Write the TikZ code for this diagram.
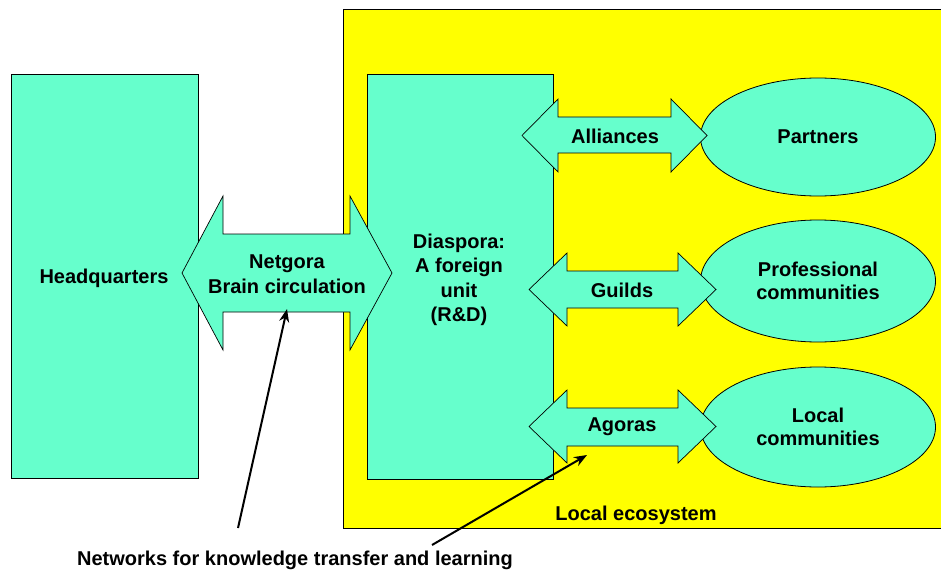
\documentclass[tikz,border=0pt]{standalone}
\usepackage{fontspec}
\setmainfont{Liberation Sans}
\usetikzlibrary{arrows.meta,shapes.geometric}
\definecolor{aqua}{HTML}{66FFCC}
\definecolor{yel}{HTML}{FFFF00}
\tikzset{
  box/.style={draw=black, line width=0.8pt, fill=aqua},
  lbl/.style={font=\fontsize{20}{24.5}\selectfont\bfseries, align=center, inner sep=0pt},
  dbl/.style={draw=black, line width=0.7pt, fill=aqua},
  pointer/.style={line width=2pt, -{Stealth[length=13pt,width=10pt]}}
}
\begin{document}
\begin{tikzpicture}[x=1pt,y=-1pt]
\useasboundingbox (0,0) rectangle (941,572);
% local ecosystem
\draw[line width=1pt, fill=yel] (343,10) rectangle (950,528);
% rectangles
\draw[box] (11,74) rectangle (198,478);
\node[lbl] (hq) at (104,278) {Headquarters};
\draw[box] (367,74) rectangle (553,479);
\node[lbl] (dia) at (459,280) {Diaspora:\\A foreign\\unit\\(R\&D)};
% ellipses
\node[box, ellipse, minimum width=235pt, minimum height=118pt, inner sep=0pt] (partners) at (818,137) {};
\node[lbl] at (partners) {Partners};
\node[box, ellipse, minimum width=235pt, minimum height=122pt, inner sep=0pt] (prof) at (818,281) {};
\node[lbl, font=\fontsize{20}{23}\selectfont\bfseries] at (prof) {Professional\\communities};
\node[box, ellipse, minimum width=235pt, minimum height=120pt, inner sep=0pt] (localc) at (818,427) {};
\node[lbl, font=\fontsize{20}{23}\selectfont\bfseries] at (localc) {Local\\communities};
% double arrows
\draw[dbl] (182,273) -- (223,196) -- (223,234) -- (350,234) -- (350,196) -- (392,273)
  -- (350,350) -- (350,312) -- (223,312) -- (223,350) -- cycle;
\node[lbl, font=\fontsize{20}{25}\selectfont\bfseries] (net) at (287,274) {Netgora\\Brain circulation};
\draw[dbl] (522,135.5) -- (558,99) -- (558,117) -- (671,117) -- (671,99) -- (707,135.5)
  -- (671,172) -- (671,153) -- (558,153) -- (558,172) -- cycle;
\node[lbl] (all) at (615,136) {Alliances};
\draw[dbl] (529,289.5) -- (567,253) -- (567,271) -- (678,271) -- (678,253) -- (716,289.5)
  -- (678,326) -- (678,308) -- (567,308) -- (567,326) -- cycle;
\node[lbl] (guilds) at (622,290) {Guilds};
\draw[dbl] (529,426.5) -- (567,390) -- (567,408) -- (678,408) -- (678,390) -- (716,426.5)
  -- (678,463) -- (678,446) -- (567,446) -- (567,463) -- cycle;
\node[lbl] (agoras) at (622,427) {Agoras};
% labels
\node[lbl] (eco) at (636,515) {Local ecosystem};
\node[lbl] (networks) at (295,560) {Networks for knowledge transfer and learning};
% pointers
\coordinate (s1) at (238,528);
\coordinate (t1) at (287,309);
\coordinate (s2) at (432,545);
\coordinate (t2) at (587,455);
\draw[pointer] (s1) -- (t1);
\draw[pointer] (s2) -- (t2);
\end{tikzpicture}
\end{document}
